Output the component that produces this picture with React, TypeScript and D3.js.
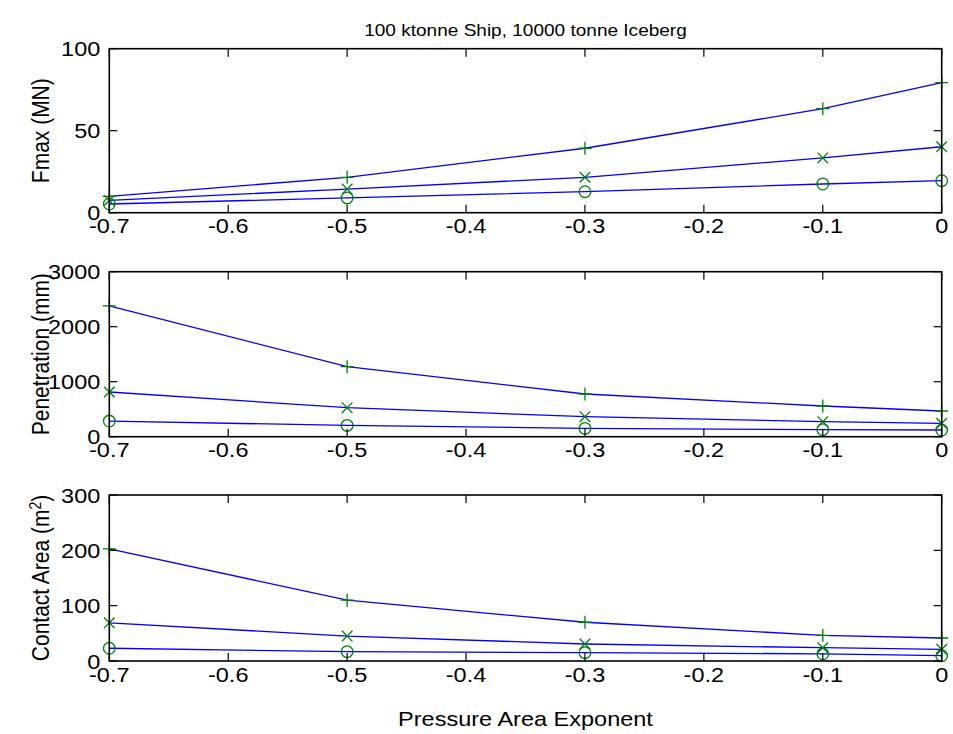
import React from "react";
import * as d3 from "d3";

const exponent = [-0.7, -0.5, -0.3, -0.1, 0];
const xTicks = [-0.7, -0.6, -0.5, -0.4, -0.3, -0.2, -0.1, 0];
const xTickLabels = ["-0.7", "-0.6", "-0.5", "-0.4", "-0.3", "-0.2", "-0.1", "0"];

const fmaxPlus = [10, 21.6, 39.3, 63.4, 79.3];
const fmaxCross = [7.5, 14.4, 21.6, 33.4, 40.2];
const fmaxCircle = [5.3, 9, 12.8, 17.5, 19.5];
const fmaxTicks = [0, 50, 100];

const penPlus = [2380, 1273, 776, 558, 467];
const penCross = [813, 527, 364, 273, 243];
const penCircle = [285, 205, 152, 128, 122];
const penTicks = [0, 1000, 2000, 3000];

const areaPlus = [202.5, 110, 70, 46.4, 41.6];
const areaCross = [69, 45, 30.7, 24, 21];
const areaCircle = [23, 17, 15, 13, 9.6];
const areaTicks = [0, 100, 200, 300];

const titleText = "100 ktonne Ship, 10000 tonne Iceberg";
const xLabelText = "Pressure Area Exponent";

const W = 953;
const H = 734;
const LEFT = 109.3;
const RIGHT = 941.7;
const SX = 1.12;
const FS = 21;
const LINE = "#0000ff";
const MARK = "#008000";

type Panel = {
  top: number;
  bottom: number;
  max: number;
  ticks: number[];
  series: { values: number[]; marker: "plus" | "cross" | "circle" }[];
  label: React.ReactNode;
};

const panels: Panel[] = [
  {
    top: 48.7,
    bottom: 212.7,
    max: 100,
    ticks: fmaxTicks,
    series: [
      { values: fmaxPlus, marker: "plus" },
      { values: fmaxCross, marker: "cross" },
      { values: fmaxCircle, marker: "circle" },
    ],
    label: "Fmax (MN)",
  },
  {
    top: 271.7,
    bottom: 436.7,
    max: 3000,
    ticks: penTicks,
    series: [
      { values: penPlus, marker: "plus" },
      { values: penCross, marker: "cross" },
      { values: penCircle, marker: "circle" },
    ],
    label: "Penetration (mm)",
  },
  {
    top: 495,
    bottom: 661,
    max: 300,
    ticks: areaTicks,
    series: [
      { values: areaPlus, marker: "plus" },
      { values: areaCross, marker: "cross" },
      { values: areaCircle, marker: "circle" },
    ],
    label: (
      <>
        Contact Area (m
        <tspan baselineShift="super" fontSize={14}>
          2
        </tspan>
        )
      </>
    ),
  },
];

const x = d3.scaleLinear().domain([-0.7, 0]).range([LEFT, RIGHT]);

function Marker({ kind, cx, cy }: { kind: string; cx: number; cy: number }) {
  const s = 6.5;
  if (kind === "plus") {
    return (
      <path
        d={`M${cx - s},${cy}H${cx + s}M${cx},${cy - s}V${cy + s}`}
        stroke={MARK}
        strokeWidth={1.3}
        fill="none"
      />
    );
  }
  if (kind === "cross") {
    const c = 5.3;
    return (
      <path
        d={`M${cx - c},${cy - c}L${cx + c},${cy + c}M${cx - c},${cy + c}L${cx + c},${cy - c}`}
        stroke={MARK}
        strokeWidth={1.3}
        fill="none"
      />
    );
  }
  return <circle cx={cx} cy={cy} r={5.8} stroke={MARK} strokeWidth={1.3} fill="none" />;
}

function PanelView({ p }: { p: Panel }) {
  const y = d3.scaleLinear().domain([0, p.max]).range([p.bottom, p.top]);
  const line = d3
    .line<number>()
    .x((_, i) => x(exponent[i]))
    .y((d) => y(d));
  const tl = 8;
  const cy = (p.top + p.bottom) / 2;
  return (
    <g>
      {p.series.map((s, i) => (
        <path key={"l" + i} d={line(s.values) || ""} stroke={LINE} strokeWidth={1.3} fill="none" />
      ))}
      {p.series.map((s, i) =>
        s.values.map((v, j) => (
          <Marker key={"m" + i + "-" + j} kind={s.marker} cx={x(exponent[j])} cy={y(v)} />
        ))
      )}
      <rect
        x={LEFT}
        y={p.top}
        width={RIGHT - LEFT}
        height={p.bottom - p.top}
        fill="none"
        stroke="#000"
        strokeWidth={1.6}
      />
      {xTicks.map((t, i) => (
        <g key={"xt" + i}>
          <line x1={x(t)} x2={x(t)} y1={p.bottom} y2={p.bottom - tl} stroke="#000" strokeWidth={1.2} />
          <line x1={x(t)} x2={x(t)} y1={p.top} y2={p.top + tl} stroke="#000" strokeWidth={1.2} />
          <text
            transform={`translate(${x(t)},${p.bottom + 20.5}) scale(${SX},1)`}
            textAnchor="middle"
            fontSize={FS}
          >
            {xTickLabels[i]}
          </text>
        </g>
      ))}
      {p.ticks.map((t, i) => (
        <g key={"yt" + i}>
          <line x1={LEFT} x2={LEFT + tl} y1={y(t)} y2={y(t)} stroke="#000" strokeWidth={1.2} />
          <line x1={RIGHT} x2={RIGHT - tl} y1={y(t)} y2={y(t)} stroke="#000" strokeWidth={1.2} />
          <text
            transform={`translate(${LEFT - 9},${y(t) + 7.5}) scale(${SX},1)`}
            textAnchor="end"
            fontSize={FS}
          >
            {t}
          </text>
        </g>
      ))}
      <text
        transform={`translate(49,${cy}) scale(${SX},1) rotate(-90)`}
        textAnchor="middle"
        fontSize={FS}
      >
        {p.label}
      </text>
    </g>
  );
}

export default function App() {
  return (
    <svg
      width={W}
      height={H}
      style={{ position: "absolute", left: 0, top: 0, background: "#fff" }}
      fontFamily="'Liberation Sans', Arial, Helvetica, sans-serif"
    >
      <rect x={0} y={0} width={W} height={H} fill="#fff" />
      <text
        transform={`translate(${(LEFT + RIGHT) / 2},36) scale(${SX},1)`}
        textAnchor="middle"
        fontSize={17}
      >
        {titleText}
      </text>
      {panels.map((p, i) => (
        <PanelView key={i} p={p} />
      ))}
      <text
        transform={`translate(${(LEFT + RIGHT) / 2},726) scale(${SX},1)`}
        textAnchor="middle"
        fontSize={FS}
      >
        {xLabelText}
      </text>
    </svg>
  );
}
